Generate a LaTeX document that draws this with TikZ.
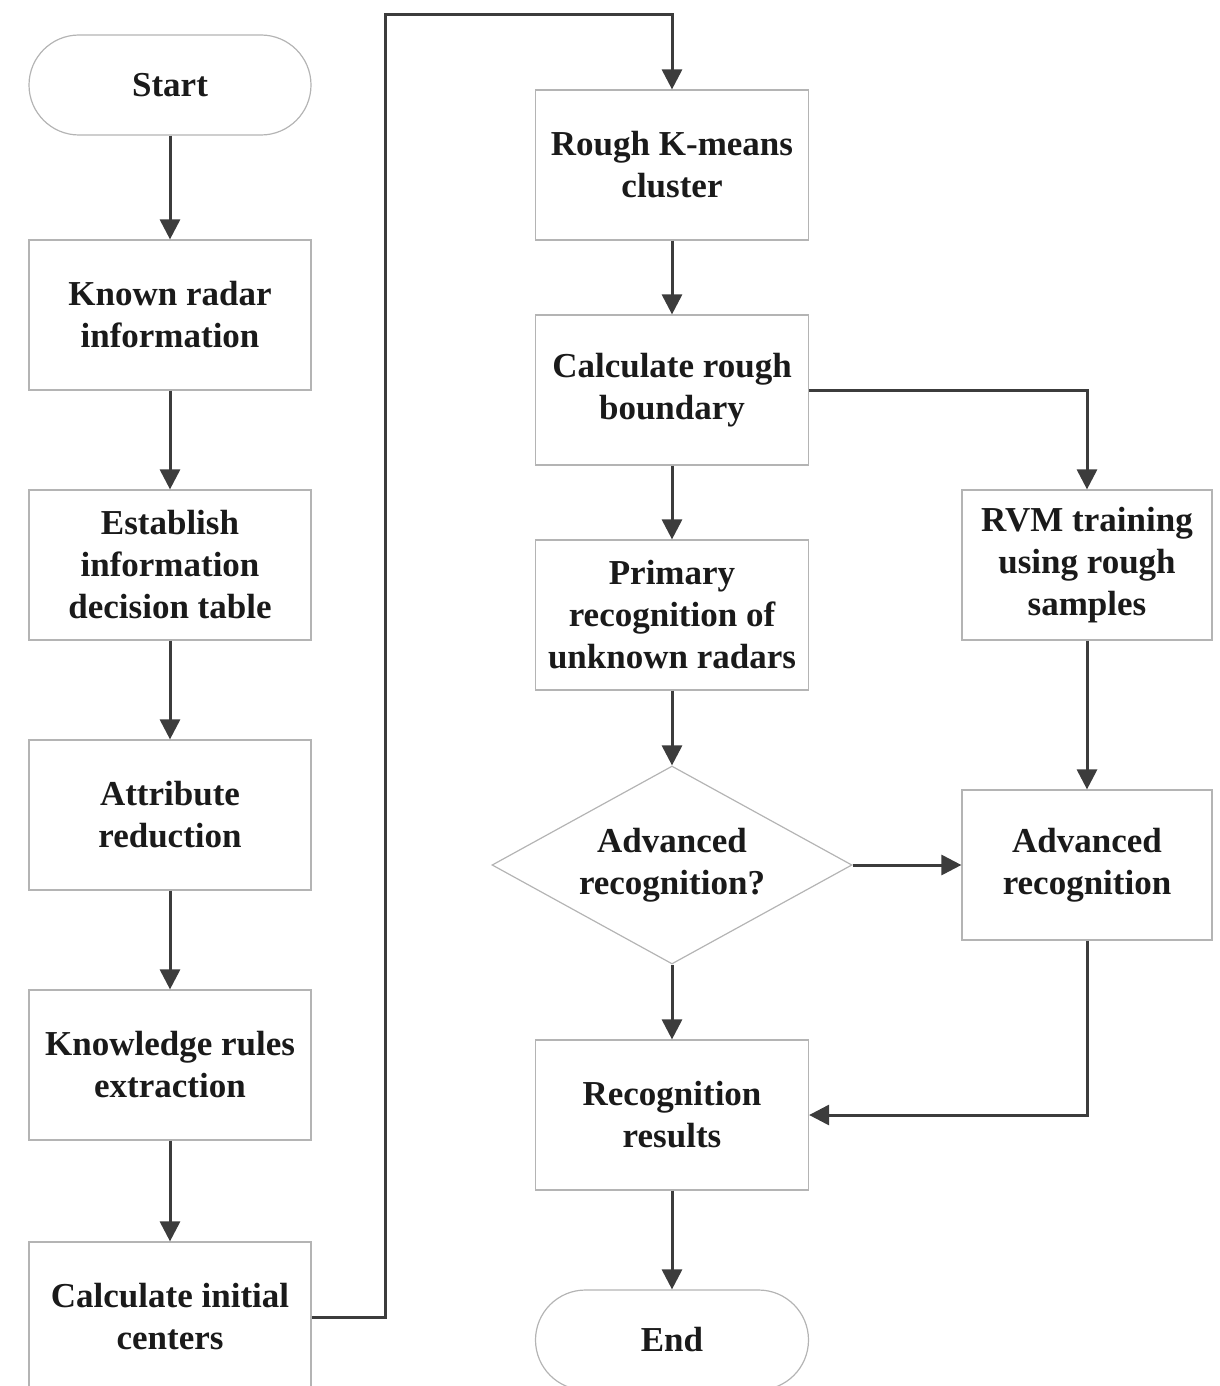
\documentclass[tikz,border=0pt]{standalone}
\usepackage{fontspec}
\setmainfont{Liberation Serif}
\usetikzlibrary{arrows.meta,shapes.geometric}
\definecolor{linegray}{HTML}{3C3C3C}
\definecolor{boxgray}{HTML}{B4B4B4}
\definecolor{textblack}{HTML}{1A1A1A}
\begin{document}
\begin{tikzpicture}[x=0.5pt, y=-0.5pt,
    every node/.style={font=\fontsize{17.5}{21}\selectfont\bfseries, text=textblack, align=center},
    procbox/.style={draw=boxgray, line width=0.6pt, rectangle, minimum height=75pt, inner sep=0pt},
    leftbox/.style={procbox, minimum width=141pt},
    midbox/.style={procbox, minimum width=136.5pt},
    rightbox/.style={procbox, minimum width=125pt},
    terminal/.style={draw=boxgray, line width=0.6pt, rectangle, rounded corners=25pt, minimum height=50pt, inner sep=0pt},
    decision/.style={draw=boxgray, line width=0.6pt, diamond, shape aspect=1.8, minimum width=180pt, minimum height=99pt, inner sep=0pt},
    flow/.style={draw=linegray, line width=1.5pt, -{Triangle[length=10pt, width=10pt]}}]
    \useasboundingbox (0,0) rectangle (1220,1386);
    % left column
    \node[terminal, minimum width=141pt] (start) at (170,85) {Start};
    \node[leftbox] (known) at (170,315) {Known radar\\information};
    \node[leftbox] (table) at (170,565) {Establish\\information\\decision table};
    \node[leftbox] (reduce) at (170,815) {Attribute\\reduction};
    \node[leftbox] (rules) at (170,1065) {Knowledge rules\\extraction};
    \node[leftbox] (centers) at (170,1317) {Calculate initial\\centers};
    % middle column
    \node[midbox] (kmeans) at (672,165) {Rough K-means\\cluster};
    \node[midbox] (boundary) at (672,390) {Calculate rough\\boundary};
    \node[midbox] (primary) at (672,615) {Primary\\recognition of\\unknown radars};
    \node[decision] (decide) at (672,865) {Advanced\\recognition?};
    \node[midbox] (results) at (672,1115) {Recognition\\results};
    \node[terminal, minimum width=136.5pt] (end) at (672,1340) {End};
    % right column
    \node[rightbox] (rvm) at (1087,565) {RVM training\\using rough\\samples};
    \node[rightbox] (advanced) at (1087,865) {Advanced\\recognition};
    \coordinate (turn) at (385,15);
    % connectors
    \draw[flow] (start) -- (known);
    \draw[flow] (known) -- (table);
    \draw[flow] (table) -- (reduce);
    \draw[flow] (reduce) -- (rules);
    \draw[flow] (rules) -- (centers);
    \draw[flow] (centers.east) -| (turn) -| (kmeans.north);
    \draw[flow] (kmeans) -- (boundary);
    \draw[flow] (boundary) -- (primary);
    \draw[flow] (boundary.east) -| (rvm.north);
    \draw[flow] (primary) -- (decide);
    \draw[flow] (decide.east) -- (advanced.west);
    \draw[flow] (rvm) -- (advanced);
    \draw[flow] (decide.south) -- (results.north);
    \draw[flow] (advanced.south) |- (results.east);
    \draw[flow] (results) -- (end);
\end{tikzpicture}
\end{document}
